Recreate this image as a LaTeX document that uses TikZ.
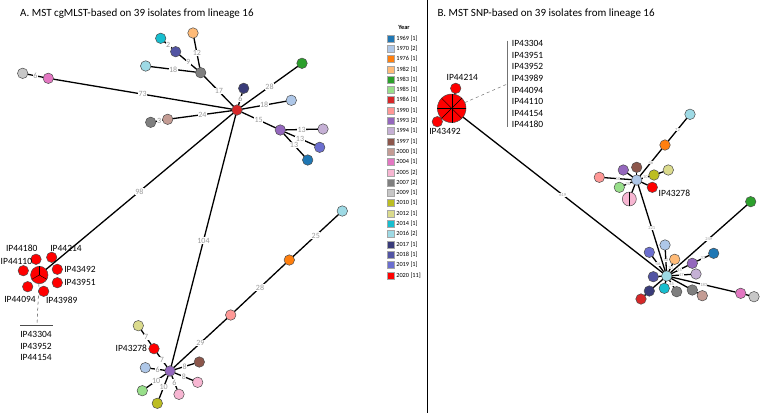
\documentclass[tikz,border=0pt]{standalone}
\usepackage{fontspec}
\setmainfont{Carlito}
\usetikzlibrary{positioning}
% year colours
\definecolor{y1969}{HTML}{1F77B4}
\definecolor{y1970}{HTML}{AEC7E8}
\definecolor{y1976}{HTML}{FF7F0E}
\definecolor{y1982}{HTML}{FFBB78}
\definecolor{y1983}{HTML}{2CA02C}
\definecolor{y1985}{HTML}{98DF8A}
\definecolor{y1986}{HTML}{D62728}
\definecolor{y1990}{HTML}{FF9896}
\definecolor{y1993}{HTML}{9467BD}
\definecolor{y1994}{HTML}{C5B0D5}
\definecolor{y1997}{HTML}{8C564B}
\definecolor{y2000}{HTML}{C49C94}
\definecolor{y2004}{HTML}{E377C2}
\definecolor{y2005}{HTML}{F7B6D2}
\definecolor{y2007}{HTML}{7F7F7F}
\definecolor{y2009}{HTML}{C7C7C7}
\definecolor{y2010}{HTML}{BCBD22}
\definecolor{y2012}{HTML}{DBDB8D}
\definecolor{y2014}{HTML}{17BECF}
\definecolor{y2016}{HTML}{9EDAE5}
\definecolor{y2017}{HTML}{393B79}
\definecolor{y2018}{HTML}{5254A3}
\definecolor{y2019}{HTML}{6B6ECF}
\definecolor{y2020}{HTML}{FF0000}
\tikzset{
  iso/.style={ % style for each isolate
    circle,draw=black!70,line width=0.5pt, % thin dark outline
    inner sep=0pt,outer sep=0pt, % no padding
    minimum size=10.5pt, % same size for every isolate
  },
  pie/.style={ % style for merged isolates
    iso,fill=y2020,
  },
  conn/.style={ % style for the links
    line width=1.3pt,
  },
  elab/.style={ % distance on a link (panel A)
    font=\fontsize{8}{8}\selectfont,text=black!40,
    fill=white,inner sep=0.5pt,
  },
  slab/.style={ % distance on a link (panel B)
    elab,font=\fontsize{4.5}{4.5}\selectfont,inner sep=0.2pt,
  },
  tag/.style={ % isolate names
    font=\fontsize{9.5}{11.3}\selectfont,inner sep=0pt,
  },
  lead/.style={ % leader to a name list
    black!55,line width=0.5pt,dashed,
  },
  ttl/.style={ % panel titles
    font=\fontsize{11}{12}\selectfont,anchor=west,inner sep=0pt,
  },
  legbox/.style={ % legend swatch
    draw=black!35,line width=0.3pt,minimum size=7pt,inner sep=0pt,
  },
  legtxt/.style={ % legend text
    font=\fontsize{6.3}{6.3}\selectfont,inner sep=0pt,anchor=west,
  },
}
\begin{document}
\begin{tikzpicture}[x=1pt,y=-1pt]
  \useasboundingbox (0,0) rectangle (760,413);
  % titles and divider
  \node[ttl] (tA) at (20,13.3) {A. MST cgMLST-based on 39 isolates from lineage 16};
  \node[ttl] (tB) at (437.3,13.3) {B. MST SNP-based on 39 isolates from lineage 16};
  \draw[line width=1pt] (427,0) -- (427,413);

  % legend
  \node[font=\bfseries\fontsize{6.3}{6.3}\selectfont,inner sep=0pt] (yr) at (404,27) {Year};
  \foreach \yr/\n [count=\i from 0] in {1969/1,1970/2,1976/1,1982/1,1983/1,1985/1,1986/1,1990/1,
      1993/2,1994/1,1997/1,2000/1,2004/1,2005/2,2007/2,2009/1,2010/1,2012/1,2014/1,2016/2,
      2017/1,2018/1,2019/1,2020/11}
    \node[legbox,fill=y\yr] (k\yr) at (390.5,38.3+10.3*\i) {}
      node[legtxt] at ([xshift=2pt]k\yr.east) {\yr\ [\n]};

  % panel A: upper part
  \node[iso,fill=y1986] (hA) at (237,110) {};
  \node[iso,fill=y2007] (a2007) at (200.7,72.7) {};
  \node[iso,fill=y1982] (a1982) at (193,33) {};
  \node[iso,fill=y2018] (a2018) at (175.7,51.7) {};
  \node[iso,fill=y2014] (a2014) at (160.7,38.3) {};
  \node[iso,fill=y2016] (a2016) at (145.7,66) {};
  \node[iso,fill=y2004] (a2004) at (48.3,78.3) {};
  \node[iso,fill=y2009] (a2009) at (22.7,73.3) {};
  \node[iso,fill=y2000] (a2000) at (167.7,119.3) {};
  \node[iso,fill=y2007] (a2007b) at (150.7,122.3) {};
  \node[iso,fill=y2017] (a2017) at (243.7,88.3) {};
  \node[iso,fill=y1983] (a1983) at (302,63.3) {};
  \node[iso,fill=y1970] (a1970) at (291.3,100.3) {};
  \node[iso,fill=y1993] (a1993) at (280.3,130) {};
  \node[iso,fill=y1994] (a1994) at (323,129) {};
  \node[iso,fill=y2019] (a2019) at (319.7,147.3) {};
  \node[iso,fill=y1969] (a1969) at (307.7,160) {};
  \draw[conn] (hA) -- node[elab]{17} (a2007);
  \draw[conn] (a2007) -- node[elab]{12} (a1982);
  \draw[conn] (a2007) -- node[elab]{9} (a2018);
  \draw[conn] (a2018) -- node[elab]{2} (a2014);
  \draw[conn] (a2007) -- node[elab]{18} (a2016);
  \draw[conn] (hA) -- node[elab]{73} (a2004);
  \draw[conn] (a2004) -- node[elab]{6} (a2009);
  \draw[conn] (hA) -- node[elab]{24} (a2000);
  \draw[conn] (a2000) -- node[elab]{3} (a2007b);
  \draw[conn] (hA) -- node[elab]{6} (a2017);
  \draw[conn] (hA) -- node[elab]{28} (a1983);
  \draw[conn] (hA) -- node[elab]{18} (a1970);
  \draw[conn] (hA) -- node[elab]{15} (a1993);
  \draw[conn] (a1993) -- node[elab]{13} (a1994);
  \draw[conn] (a1993) -- node[elab]{13} (a2019);
  \draw[conn] (a1993) -- node[elab]{13} (a1969);

  % panel A: merged cluster
  \node[pie,minimum size=17.4pt] (pA) at (39.3,275) {};
  \foreach \a in {90,210,330}
    \draw[line width=0.4pt] (pA.center) -- (pA.\a);
  \node[iso,fill=y2020] (s44180) at (36,259.3) {};
  \node[iso,fill=y2020] (s44214) at (51.7,257.3) {};
  \node[iso,fill=y2020] (s43492) at (57.3,269.3) {};
  \node[iso,fill=y2020] (s43951) at (57.3,282.7) {};
  \node[iso,fill=y2020] (s43989) at (43.7,291.3) {};
  \node[iso,fill=y2020] (s44094) at (27.7,286.7) {};
  \node[iso,fill=y2020] (s44110) at (23.3,270.7) {};
  \node[tag] (n44180) at (21.7,248.3) {IP44180};
  \node[tag] (n44214) at (66,248.3) {IP44214};
  \node[tag,right=1.5pt of s43492] (n43492) {IP43492};
  \node[tag,right=1.5pt of s43951] (n43951) {IP43951};
  \node[tag] (n43989) at (61.7,300) {IP43989};
  \node[tag] (n44094) at (20,299) {IP44094};
  \node[tag,anchor=west] (n44110) at (0.5,261.7) {IP44110};
  \draw[conn] (hA) -- node[elab]{98} (pA);
  \coordinate (laJ) at (37,325.7);
  \coordinate (laL) at (20,325.7);
  \coordinate (laR) at (53,325.7);
  \draw[lead,black!70] (pA) -- (laJ);
  \draw[black!70,line width=0.8pt] (laL) -- (laR);
  \node[tag,anchor=north,align=center] (lstA) at (36,331.5) {IP43304\\IP43952\\IP44154};

  % panel A: lower part
  \node[iso,fill=y1993] (b1993) at (170,371) {};
  \node[iso,fill=y2012] (b2012) at (138.3,325.7) {};
  \node[iso,fill=y2020] (b43278) at (154,348.7) {};
  \node[iso,fill=y1970] (b1970) at (145.3,367.7) {};
  \node[iso,fill=y1985] (b1985) at (142.3,390.7) {};
  \node[iso,fill=y2010] (b2010) at (157.3,403.3) {};
  \node[iso,fill=y2005] (b2005) at (179,394.3) {};
  \node[iso,fill=y2005] (b2005b) at (197.7,382.3) {};
  \node[iso,fill=y1997] (b1997) at (199.3,362) {};
  \node[iso,fill=y1990] (b1990) at (230.7,315) {};
  \node[iso,fill=y1976] (b1976) at (289.3,260) {};
  \node[iso,fill=y2016] (b2016) at (342.3,211) {};
  \node[tag,left=1.5pt of b43278] (n43278) {IP43278};
  \draw[conn] (hA) -- node[elab]{104} (b1993);
  \draw[conn] (b2012) -- node[elab]{7} (b43278);
  \draw[conn] (b43278) -- node[elab]{7} (b1993);
  \draw[conn] (b1993) -- node[elab]{6} (b1970);
  \draw[conn] (b1993) -- node[elab]{10} (b1985);
  \draw[conn] (b1993) -- node[elab]{10} (b2010);
  \draw[conn] (b1993) -- node[elab]{6} (b2005);
  \draw[conn] (b1993) -- node[elab]{8} (b2005b);
  \draw[conn] (b1993) -- node[elab]{8} (b1997);
  \draw[conn] (b1993) -- node[elab]{29} (b1990);
  \draw[conn] (b1990) -- node[elab]{28} (b1976);
  \draw[conn] (b1976) -- node[elab]{25} (b2016);

  % panel B: merged cluster
  \node[pie,minimum size=28.6pt] (pB) at (451.7,108.3) {};
  \foreach \a in {0,45,...,315}
    \draw[line width=0.4pt] (pB.center) -- (pB.\a);
  \node[iso,fill=y2020] (t44214) at (455.7,88.3) {};
  \node[iso,fill=y2020] (t43492) at (437.3,121.7) {};
  \node[tag] (m44214) at (462.3,77.3) {IP44214};
  \node[tag] (m43492) at (445,131.7) {IP43492};
  \coordinate (lbT) at (507.3,40.7);
  \coordinate (lbB) at (507.3,126.7);
  \coordinate (lbJ) at (507.3,84);
  \draw[black!55,line width=1.6pt] (lbT) -- (lbB);
  \draw[lead] (pB) -- (lbJ);
  \node[tag,anchor=north west,align=left,font=\fontsize{9.5}{11.6}\selectfont] (lstB) at (511.7,40.3)
    {IP43304\\IP43951\\IP43952\\IP43989\\IP44094\\IP44110\\IP44154\\IP44180};

  % panel B: upper group
  \node[iso,fill=y1970] (c1970) at (636.7,180) {};
  \node[iso,fill=y1976] (c1976) at (665,145) {};
  \node[iso,fill=y2016] (c2016) at (690,114.3) {};
  \node[iso,fill=y1997] (c1997) at (636.7,167.3) {};
  \node[iso,fill=y1993] (c1993) at (623.3,170) {};
  \node[iso,fill=y1990] (c1990) at (599.3,177.3) {};
  \node[iso,fill=y1985] (c1985) at (619.3,187.3) {};
  \node[iso,fill=y2005,minimum size=14pt] (c2005) at (629.3,199) {};
  \draw[line width=0.4pt] (c2005.north) -- (c2005.south);
  \node[iso,fill=y2010] (c2010) at (654,175) {};
  \node[iso,fill=y2012] (c2012) at (668.3,170) {};
  \node[iso,fill=y2020] (c43278) at (652.3,187.3) {};
  \node[tag,anchor=west] (m43278) at (658.5,193.5) {IP43278};
  \node[iso,fill=y1983] (c1983) at (750.7,201.7) {};

  % panel B: lower group
  \node[iso,fill=y2016] (hB) at (666.7,276) {};
  \node[iso,fill=y1970] (d1970) at (665,245) {};
  \node[iso,fill=y2019] (d2019) at (649.3,252.3) {};
  \node[iso,fill=y1982] (d1982) at (674.7,259.3) {};
  \node[iso,fill=y1993] (d1993) at (692.3,263.3) {};
  \node[iso,fill=y1969] (d1969) at (713.7,253.3) {};
  \node[iso,fill=y1994] (d1994) at (696,274) {};
  \node[iso,fill=y2018] (d2018) at (653.3,276.7) {};
  \node[iso,fill=y2014] (d2014) at (664.3,288.3) {};
  \node[iso,fill=y2017] (d2017) at (649.3,291) {};
  \node[iso,fill=y1986] (d1986) at (641,299) {};
  \node[iso,fill=y2007] (d2007) at (676.7,291.7) {};
  \node[iso,fill=y2007] (d2007b) at (692.3,290) {};
  \node[iso,fill=y2000] (d2000) at (702.3,295.7) {};
  \node[iso,fill=y2004] (d2004) at (740.7,293.3) {};
  \node[iso,fill=y2009] (d2009) at (754,296.7) {};

  % panel B links
  \draw[conn] (pB) -- node[slab]{619} (hB);
  \draw[conn] (pB) -- (t44214);
  \draw[conn] (pB) -- (t43492);
  \draw[conn] (hB) -- node[slab]{221} (c1970);
  \draw[conn] (c1970) -- node[slab]{46} (c1976);
  \draw[conn] (c1976) -- node[slab]{72} (c2016);
  \draw[conn] (c1970) -- (c1997);
  \draw[conn] (c1970) -- (c1993);
  \draw[conn] (c1970) -- node[slab]{50} (c1990);
  \draw[conn] (c1970) -- node[slab]{20} (c1985);
  \draw[conn] (c1970) -- (c2005);
  \draw[conn] (c1970) -- node[slab]{10} (c2010);
  \draw[conn] (c2010) -- (c2012);
  \draw[conn] (c1970) -- (c43278);
  \draw[conn] (hB) -- node[slab]{249} (c1983);
  \draw[conn] (hB) -- node[slab]{50} (d1970);
  \draw[conn] (hB) -- node[slab]{46} (d2019);
  \draw[conn] (hB) -- node[slab]{30} (d1982);
  \draw[conn] (hB) -- node[slab]{45} (d1993);
  \draw[conn] (d1993) -- node[slab]{33} (d1969);
  \draw[conn] (hB) -- node[slab]{47} (d1994);
  \draw[conn] (hB) -- (d2018);
  \draw[conn] (hB) -- (d2014);
  \draw[conn] (hB) -- (d2017);
  \draw[conn] (d2017) -- (d1986);
  \draw[conn] (hB) -- node[slab]{45} (d2007);
  \draw[conn] (hB) -- (d2007b);
  \draw[conn] (d2007b) -- (d2000);
  \draw[conn] (hB) -- node[slab]{183} (d2004);
  \draw[conn] (d2004) -- (d2009);
\end{tikzpicture}
\end{document}
